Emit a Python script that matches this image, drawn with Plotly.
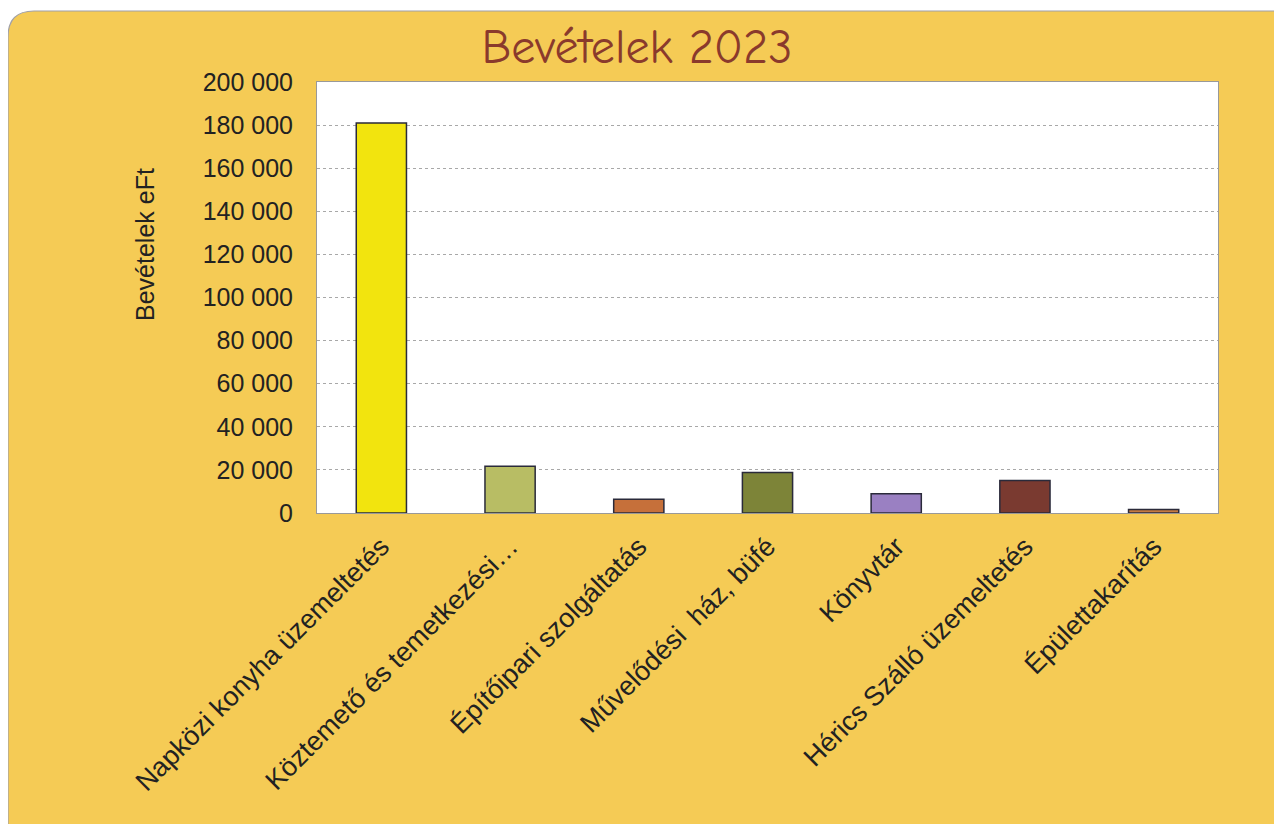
import plotly.graph_objects as go

categories = [
    "Napközi konyha üzemeltetés",
    "Köztemető és temetkezési…",
    "Építőipari szolgáltatás",
    "Művelődési  ház, büfé",
    "Könyvtár",
    "Hérics Szálló üzemeltetés",
    "Épülettakarítás",
]
values = [181000, 21700, 6400, 18800, 8900, 15100, 1600]
colors = ["#f2e40e", "#b8bd64", "#c6703a", "#7d8438", "#9a80c2", "#7a3a30", "#c47a40"]
y_ticks = [0, 20000, 40000, 60000, 80000, 100000, 120000, 140000, 160000, 180000, 200000]
y_tick_labels = ["0", "20 000", "40 000", "60 000", "80 000", "100 000", "120 000",
                 "140 000", "160 000", "180 000", "200 000"]

# page has an 8px body margin; figure coordinates are screen minus 8
OFF = 8
W, H = 1282 - OFF, 824 - OFF
L, R, T = 317 - OFF, W - (1218 - OFF), 82 - OFF
B = H - (513 - OFF)
pw, ph = W - L - R, H - T - B


def px(x):
    return (x - OFF - L) / pw


def py(y):
    return (H - B - (y - OFF)) / ph


fig = go.Figure(go.Bar(
    x=categories, y=values,
    marker=dict(color=colors, line=dict(color="#2a2a3a", width=1.5)),
    width=0.39,
))

# rounded background panel (screen coords)
x0, x1, y0, y1, r = 8, 1310, 11, 850, 26
path = (f"M {px(x0)},{py(y0 + r)} "
        f"Q {px(x0)},{py(y0)} {px(x0 + r)},{py(y0)} "
        f"L {px(x1 - r)},{py(y0)} "
        f"Q {px(x1)},{py(y0)} {px(x1)},{py(y0 + r)} "
        f"L {px(x1)},{py(y1 - r)} "
        f"Q {px(x1)},{py(y1)} {px(x1 - r)},{py(y1)} "
        f"L {px(x0 + r)},{py(y1)} "
        f"Q {px(x0)},{py(y1)} {px(x0)},{py(y1 - r)} Z")

fig.update_layout(
    width=W, height=H,
    margin=dict(l=L, r=R, t=T, b=B),
    paper_bgcolor="white",
    plot_bgcolor="white",
    showlegend=False,
    title=dict(text="Bevételek 2023", x=(637 - OFF) / W, xanchor="center",
               y=1 - (46 - OFF) / H, yanchor="middle",
               font=dict(family="Comic Sans MS, Comic Neue, Lato, sans-serif", size=48,
                         color="#8a3a2c", weight="normal")),
    shapes=[
        dict(type="path", path=path, xref="paper", yref="paper",
             fillcolor="#f5cb55", line=dict(color="#a0a0a8", width=1.2), layer="below"),
        dict(type="rect", x0=0, x1=1, y0=0, y1=1, xref="paper", yref="paper",
             fillcolor="white", line=dict(width=0), layer="below"),
    ],
    annotations=[
        dict(text="Bevételek eFt", textangle=-90, x=px(145), y=py(245),
             xref="paper", yref="paper", showarrow=False, xanchor="center", yanchor="middle",
             font=dict(size=25, family="Liberation Sans, Arial, sans-serif", color="#222")),
    ],
    font=dict(family="Liberation Sans, Arial, sans-serif", color="#222222"),
)
fig.update_xaxes(
    tickangle=-45, tickfont=dict(size=27, family="Liberation Sans, Arial, sans-serif", color="#222"),
    showline=True, linecolor="#999999", linewidth=1, mirror=True,
    ticks="outside", ticklen=6, tickcolor="rgba(0,0,0,0)", range=[-0.5, 6.5],
)
fig.update_yaxes(
    range=[0, 200000], tickvals=y_ticks, ticktext=y_tick_labels,
    tickfont=dict(size=25, family="Liberation Sans, Arial, sans-serif", color="#222"),
    showgrid=True, gridcolor="#a8a8a8", gridwidth=1, griddash="dot",
    showline=True, linecolor="#999999", linewidth=1, mirror=True,
    zeroline=False, ticks="outside", ticklen=18, tickcolor="rgba(0,0,0,0)",
)

fig.write_html("out.html")
